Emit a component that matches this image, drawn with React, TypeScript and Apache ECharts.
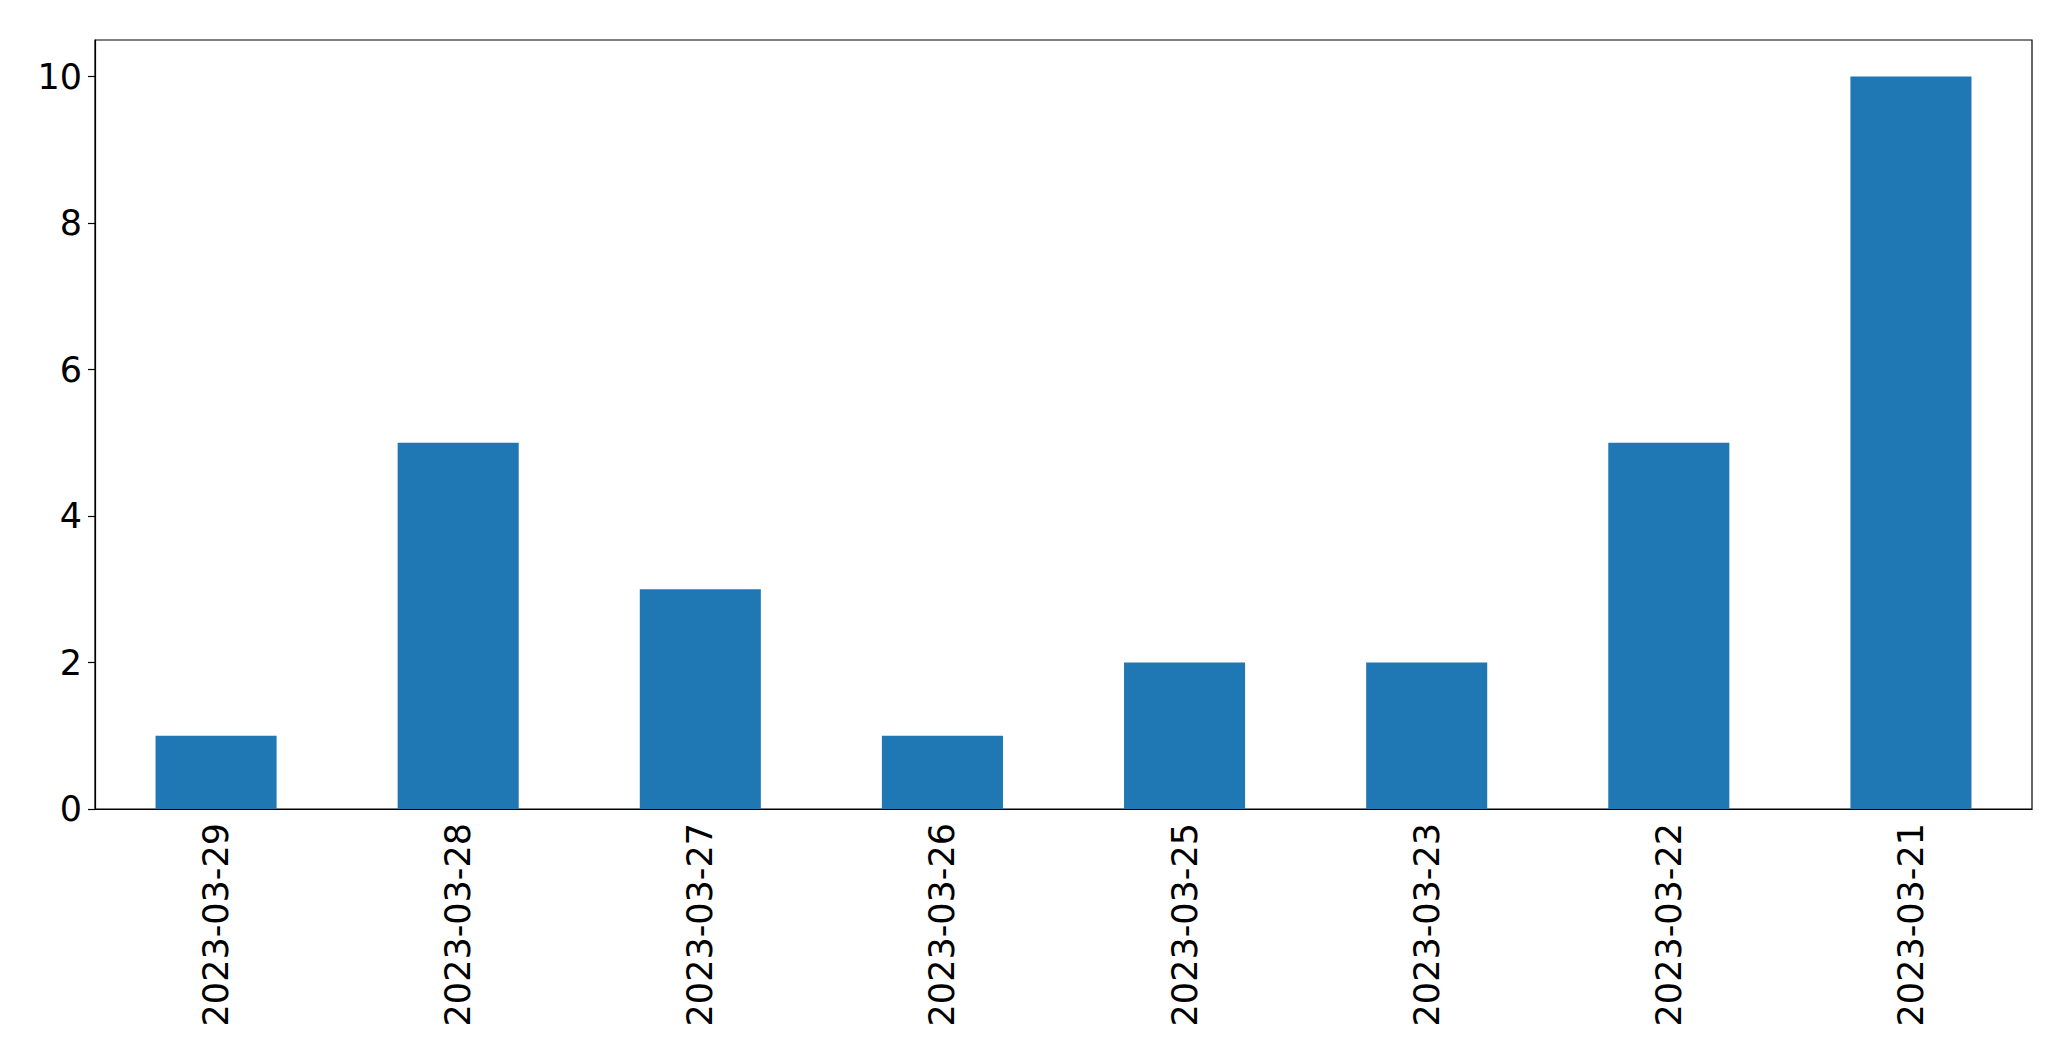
import React, { useEffect, useRef } from "react";
import * as echarts from "echarts";

const categories = ["2023-03-29", "2023-03-28", "2023-03-27", "2023-03-26", "2023-03-25", "2023-03-23", "2023-03-22", "2023-03-21"];
const values = [1, 5, 3, 1, 2, 2, 5, 10];
const yTicks = [0, 2, 4, 6, 8, 10];

export default function App() {
  const ref = useRef<HTMLDivElement>(null);
  useEffect(() => {
    document.body.style.margin = "0";
    const chart = echarts.init(ref.current!, undefined, { renderer: "svg" });
    const font = "DejaVu Sans";
    chart.setOption({
      animation: false,
      backgroundColor: "#ffffff",
      grid: { left: 95, right: 39, top: 40, bottom: 252, show: true, borderColor: "#000", borderWidth: 1.2, backgroundColor: "transparent" },
      xAxis: {
        type: "category",
        data: categories,
        boundaryGap: true,
        axisLine: { lineStyle: { color: "#000", width: 1.2 } },
        axisTick: { alignWithLabel: true, length: 7, lineStyle: { color: "#000", width: 1.2 } },
        axisLabel: { rotate: 90, fontSize: 35, fontFamily: font, color: "#000", margin: 14 },
        splitLine: { show: false },
      },
      yAxis: {
        type: "value",
        min: 0,
        max: 10.5,
        axisLine: { show: true, lineStyle: { color: "#000", width: 1.2 } },
        axisTick: { show: true, length: 7, customValues: yTicks, lineStyle: { color: "#000", width: 1.2 } },
        axisLabel: { fontSize: 35, fontFamily: font, color: "#000", margin: 13, customValues: yTicks },
        splitLine: { show: false },
      },
      series: [
        {
          type: "bar",
          data: values,
          barWidth: "50%",
          itemStyle: { color: "#1f77b4" },
        },
      ],
    });
    return () => chart.dispose();
  }, []);
  return <div ref={ref} style={{ width: 2071, height: 1061 }} />;
}
